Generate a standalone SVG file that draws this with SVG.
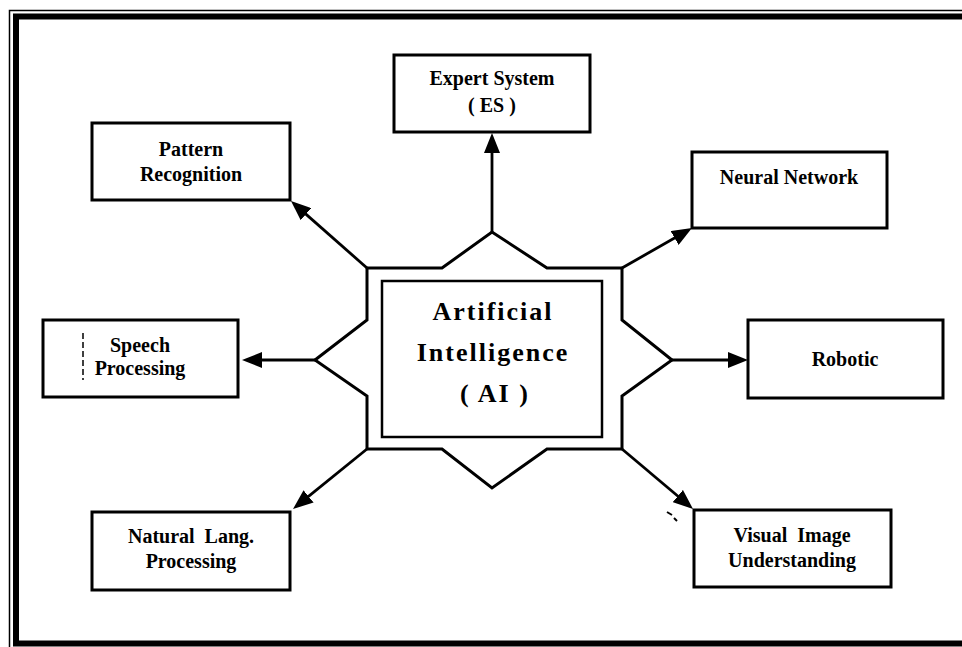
<svg xmlns="http://www.w3.org/2000/svg" width="962" height="647" viewBox="0 0 962 647">
  <style>
    .box { fill: #fff; stroke: #000; stroke-width: 3; }
    .lbl { font-family: "Liberation Serif", "Times New Roman", serif; font-weight: bold; font-size: 20px; fill: #000; text-anchor: middle; }
    .big { font-family: "Liberation Serif", "Times New Roman", serif; font-weight: bold; font-size: 26px; letter-spacing: 2px; fill: #000; text-anchor: middle; }
    .conn { stroke: #000; stroke-width: 2.8; fill: none; marker-end: url(#arrow); }
  </style>
  <defs>
    <marker id="arrow" markerUnits="userSpaceOnUse" markerWidth="20" markerHeight="16" refX="10" refY="8" orient="auto">
      <path d="M0,0 L20,8 L0,16 Z" fill="#000"/>
    </marker>
  </defs>

  <rect width="962" height="647" fill="#fff"/>

  <!-- double page frame -->
  <g id="frame" fill="none" stroke="#000">
    <rect x="9.5" y="10.5" width="1000" height="700" stroke-width="1.5"/>
    <rect x="16" y="16.5" width="1000" height="627" stroke-width="6"/>
  </g>

  <!-- connectors -->
  <g id="connectors">
    <line class="conn" x1="492" y1="232" x2="492" y2="143"/>
    <line class="conn" x1="367" y1="268" x2="298.5" y2="207.6"/>
    <line class="conn" x1="622" y1="268" x2="683.3" y2="233"/>
    <line class="conn" x1="315" y1="360" x2="252" y2="360"/>
    <line class="conn" x1="672" y1="360" x2="738" y2="360"/>
    <line class="conn" x1="367" y1="449" x2="300.8" y2="502.7"/>
    <line class="conn" x1="622" y1="449" x2="685.4" y2="502.5"/>
  </g>

  <!-- central star -->
  <g id="ai">
    <path d="M367,268 L442,268 L492,232 L547,268 L622,268 L622,320 L672,360 L622,396 L622,449 L547,449 L492,488 L442,449 L367,449 L367,396 L315,360 L367,320 Z" fill="#fff" stroke="#000" stroke-width="3" stroke-linejoin="miter"/>
    <rect x="382" y="281" width="220" height="156" fill="#fff" stroke="#000" stroke-width="2.5"/>
    <text class="big" x="493" y="320">Artificial</text>
    <text class="big" x="493" y="361">Intelligence</text>
    <text class="big" x="495" y="402" xml:space="preserve">( AI )</text>
  </g>

  <g id="expert">
    <rect class="box" x="394" y="55" width="196" height="77"/>
    <text class="lbl" x="492" y="85">Expert System</text>
    <text class="lbl" x="492" y="112" xml:space="preserve">( ES )</text>
  </g>

  <g id="pattern">
    <rect class="box" x="92" y="123" width="198" height="77"/>
    <text class="lbl" x="191" y="156">Pattern</text>
    <text class="lbl" x="191" y="181">Recognition</text>
  </g>

  <g id="neural">
    <rect class="box" x="692" y="152" width="195" height="76"/>
    <text class="lbl" x="789" y="184">Neural Network</text>
  </g>

  <g id="speech">
    <rect class="box" x="43" y="320" width="195" height="77"/>
    <line x1="83" y1="333" x2="83" y2="380" stroke="#000" stroke-width="1.5" stroke-dasharray="6,3"/>
    <text class="lbl" x="140" y="352">Speech</text>
    <text class="lbl" x="140" y="375">Processing</text>
  </g>

  <g id="robotic">
    <rect class="box" x="748" y="320" width="195" height="78"/>
    <text class="lbl" x="845" y="366">Robotic</text>
  </g>

  <g id="nlp">
    <rect class="box" x="92" y="512" width="198" height="78"/>
    <text class="lbl" x="191" y="543" xml:space="preserve">Natural  Lang.</text>
    <text class="lbl" x="191" y="568">Processing</text>
  </g>

  <g id="visual">
    <rect class="box" x="694" y="510" width="197" height="77"/>
    <line x1="667" y1="512" x2="672" y2="515" stroke="#000" stroke-width="2"/>
    <line x1="674" y1="518" x2="677" y2="521" stroke="#000" stroke-width="2"/>
    <text class="lbl" x="792" y="542" xml:space="preserve">Visual  Image</text>
    <text class="lbl" x="792" y="567">Understanding</text>
  </g>
</svg>
